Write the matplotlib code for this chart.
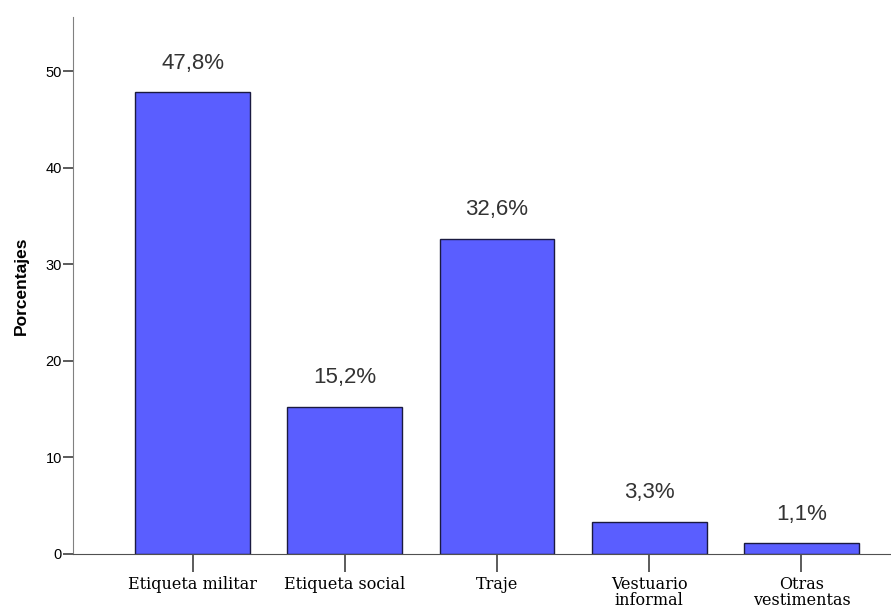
import matplotlib.pyplot as plt
import numpy as np

categorias = ['Etiqueta militar', 'Etiqueta social', 'Traje', 'Vestuario\ninformal', 'Otras\nvestimentas']
porcentajes = [47.8, 15.2, 32.6, 3.3, 1.1]
etiquetas = ['47,8%', '15,2%', '32,6%', '3,3%', '1,1%']

fig = plt.figure(figsize=(8.91, 6.10), dpi=100)
ax = fig.add_axes([0.082, 0.092, 0.918, 0.880])

x = np.arange(len(categorias))
ax.bar(x, porcentajes, width=0.755, color='#5a5eff', edgecolor='#1a1a40', linewidth=1.0)

for xi, v, t in zip(x, porcentajes, etiquetas):
    ax.annotate(t, (xi, v), xytext=(0, 21), textcoords='offset points',
                ha='center', va='center', fontsize=16, color='#333333',
                fontfamily='Liberation Sans')

ax.set_xlim(-0.785, 4.588)
ax.set_ylim(0, 55.6)
ax.set_yticks([0, 10, 20, 30, 40, 50])
ax.set_yticklabels(['0', '10', '20', '30', '40', '50'], fontfamily='Liberation Sans')
ax.set_xticks(x)
ax.set_xticklabels(categorias, fontfamily='DejaVu Serif', fontsize=11.5, linespacing=0.95)

ax.spines['top'].set_visible(False)
ax.spines['right'].set_visible(False)
ax.spines['left'].set_color('#808080')
ax.spines['bottom'].set_color('#505050')
ax.tick_params(axis='y', length=7, width=1.2, color='#404040', labelsize=10.5, pad=1)
ax.tick_params(axis='x', length=13, width=1.2, color='#404040', pad=3)

ax.set_ylabel('Porcentajes', fontsize=12.5, fontweight='bold', labelpad=12,
              fontfamily='Liberation Sans')

fig.savefig('out.png', dpi=100)
